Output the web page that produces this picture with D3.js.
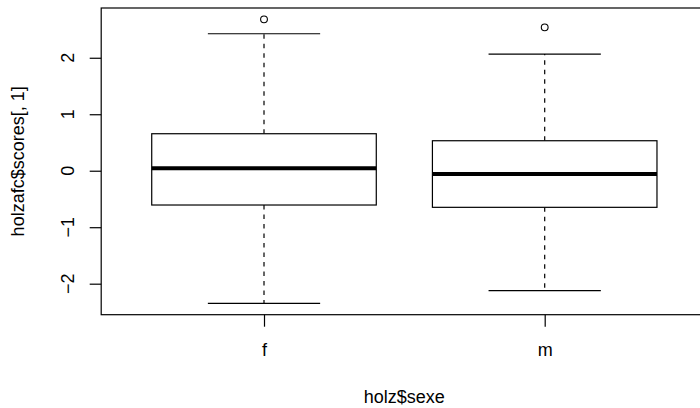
<!DOCTYPE html>
<html><head><meta charset="utf-8">
<script src="https://cdn.jsdelivr.net/npm/d3@7"></script>
<style>body{margin:0;background:#fff}svg{display:block}text{font-family:"Liberation Sans",Arial,sans-serif;fill:#000}</style>
</head><body>
<svg id="c" width="700" height="408"></svg>
<script>
const categories = ["f", "m"];
const q1 = [-0.607, -0.648];
const medians = [0.042, -0.058];
const q3 = [0.655, 0.531];
const whiskerLow = [-2.347, -2.124];
const whiskerHigh = [2.425, 2.065];
const outliers = [[2.68], [2.538]];
const yTicks = [-2, -1, 0, 1, 2];
const xLabel = "holz$sexe";
const yLabel = "holzafc$scores[, 1]";

(function () {
const svg = d3.select("#c");
const pl = 101.2, pr = 707.5, pt = 8, pb = 314.7;
const x = d3.scaleLinear().domain([0.42, 2.58]).range([pl, pr]);
const y = d3.scaleLinear().domain([-2.549, 2.881]).range([pb, pt]);
const bw = 0.8 * (x(2) - x(1));
const fs = 18;
const fmt = t => t < 0 ? "\u2212" + Math.abs(t) : String(t);

// plot frame
svg.append("rect").attr("x", pl).attr("y", pt).attr("width", pr - pl).attr("height", pb - pt)
  .attr("fill", "none").attr("stroke", "#000").attr("stroke-width", 1.2);

// y axis
const ya = svg.append("g").attr("transform", `translate(${pl},0)`)
  .call(d3.axisLeft(y).tickValues(yTicks).tickSize(11.5).tickFormat(fmt));
ya.select(".domain").remove();
ya.selectAll("line").attr("stroke", "#000").attr("stroke-width", 1.2);
ya.selectAll(".tick text").remove();
yTicks.forEach(t => {
  ya.append("text").attr("transform", `translate(${67.5 - pl},${y(t)}) rotate(-90)`)
    .attr("text-anchor", "middle").attr("dy", "0.35em").attr("font-size", fs)
    .text(fmt(t));
});

// x axis
const xa = svg.append("g").attr("transform", `translate(0,${pb})`)
  .call(d3.axisBottom(x).tickValues([1, 2]).tickSize(12).tickFormat((d, i) => categories[i]));
xa.select(".domain").remove();
xa.selectAll("line").attr("stroke", "#000").attr("stroke-width", 1.2);
xa.selectAll("text").attr("font-size", fs).attr("font-family", null).attr("y", 29).attr("dy", "0.71em");

// boxes
categories.forEach((c, i) => {
  const cx = x(i + 1);
  const g = svg.append("g");
  g.append("line").attr("x1", cx).attr("x2", cx).attr("y1", y(q3[i])).attr("y2", y(whiskerHigh[i]))
    .attr("stroke", "#000").attr("stroke-width", 1.2).attr("stroke-dasharray", "4.5,5");
  g.append("line").attr("x1", cx).attr("x2", cx).attr("y1", y(q1[i])).attr("y2", y(whiskerLow[i]))
    .attr("stroke", "#000").attr("stroke-width", 1.2).attr("stroke-dasharray", "4.5,5");
  [whiskerHigh[i], whiskerLow[i]].forEach(v => {
    g.append("line").attr("x1", cx - bw / 4).attr("x2", cx + bw / 4).attr("y1", y(v)).attr("y2", y(v))
      .attr("stroke", "#000").attr("stroke-width", 1.2);
  });
  g.append("rect").attr("x", cx - bw / 2).attr("width", bw).attr("y", y(q3[i])).attr("height", y(q1[i]) - y(q3[i]))
    .attr("fill", "#fff").attr("stroke", "#000").attr("stroke-width", 1.2);
  g.append("line").attr("x1", cx - bw / 2).attr("x2", cx + bw / 2).attr("y1", y(medians[i])).attr("y2", y(medians[i]))
    .attr("stroke", "#000").attr("stroke-width", 4);
  outliers[i].forEach(v => {
    g.append("circle").attr("cx", cx).attr("cy", y(v)).attr("r", 3.4)
      .attr("fill", "none").attr("stroke", "#000").attr("stroke-width", 1.1);
  });
});

// axis titles
svg.append("text").attr("x", (pl + pr) / 2).attr("y", 397).attr("dy", "0.35em")
  .attr("text-anchor", "middle").attr("font-size", fs).text(xLabel);
svg.append("text").attr("transform", `translate(18,${(pt + pb) / 2}) rotate(-90)`)
  .attr("text-anchor", "middle").attr("dy", "0.35em").attr("font-size", fs).text(yLabel);
})();
</script>
</body></html>
